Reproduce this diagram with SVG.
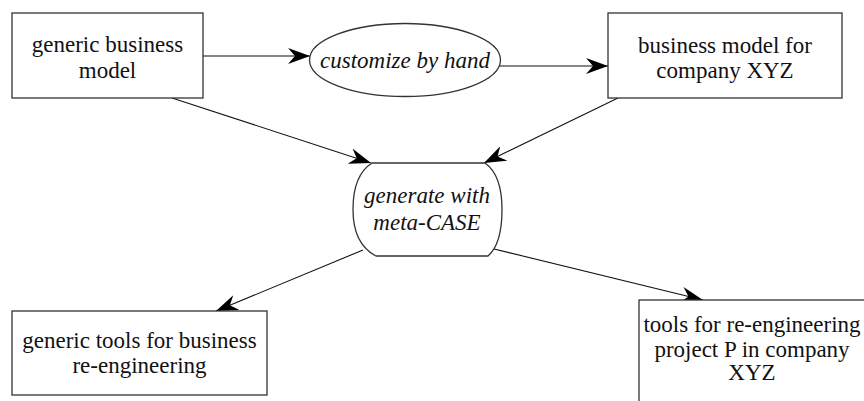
<svg xmlns="http://www.w3.org/2000/svg" width="864" height="401" viewBox="0 0 864 401">
<style>
.box{fill:#fff;stroke:#333;stroke-width:1.3}
.t{font-family:'Times New Roman',Times,'Liberation Serif','DejaVu Serif',serif;font-size:23px;fill:#111;text-anchor:middle}
.i{font-style:italic}
.c{stroke:#111;stroke-width:1.1;fill:none;marker-end:url(#ah)}
</style>
<defs>
<marker id="ah" viewBox="0 0 22 16" refX="22" refY="8" markerWidth="22" markerHeight="16" markerUnits="userSpaceOnUse" orient="auto">
<path d="M0,0 L22,8 L0,16 L7,8 Z" fill="#000"/>
</marker>
</defs>
<rect width="864" height="401" fill="#fff"/>
<g id="connectors">
<line class="c" x1="203" y1="56" x2="310" y2="56"/>
<line class="c" x1="499" y1="66" x2="608" y2="66"/>
<line class="c" x1="172" y1="98" x2="371" y2="163"/>
<line class="c" x1="618" y1="98" x2="484" y2="163"/>
<line class="c" x1="363" y1="250" x2="216" y2="311"/>
<line class="c" x1="490" y1="248" x2="703" y2="300"/>
</g>
<g id="generic-business-model">
<rect class="box" x="12" y="13" width="191" height="85"/>
<text class="t" x="107.5" y="52">generic business</text>
<text class="t" x="107.5" y="78">model</text>
</g>
<g id="customize-by-hand">
<ellipse class="box" cx="405" cy="60" rx="95.5" ry="36.5"/>
<text class="t i" x="405" y="67.5">customize by hand</text>
</g>
<g id="business-model-xyz">
<rect class="box" x="608" y="13" width="234" height="85"/>
<text class="t" x="725" y="53">business model for</text>
<text class="t" x="725" y="78">company XYZ</text>
</g>
<g id="generate-meta-case">
<path class="box" d="M372,163 L485,163 Q502,175 502,209.5 Q502,244 488,256 L376,256 Q353,244 353,209.5 Q353,175 372,163 Z"/>
<text class="t i" x="427" y="203">generate with</text>
<text class="t i" x="427" y="230">meta-CASE</text>
</g>
<g id="generic-tools">
<rect class="box" x="12" y="311" width="255" height="84"/>
<text class="t" x="139.5" y="348">generic tools for business</text>
<text class="t" x="139.5" y="373">re-engineering</text>
</g>
<g id="tools-project-p">
<rect class="box" x="639" y="300" width="300" height="130"/>
<text class="t" x="752" y="331.5">tools for re-engineering</text>
<text class="t" x="752" y="356.5">project P in company</text>
<text class="t" x="752" y="380">XYZ</text>
</g>
</svg>
